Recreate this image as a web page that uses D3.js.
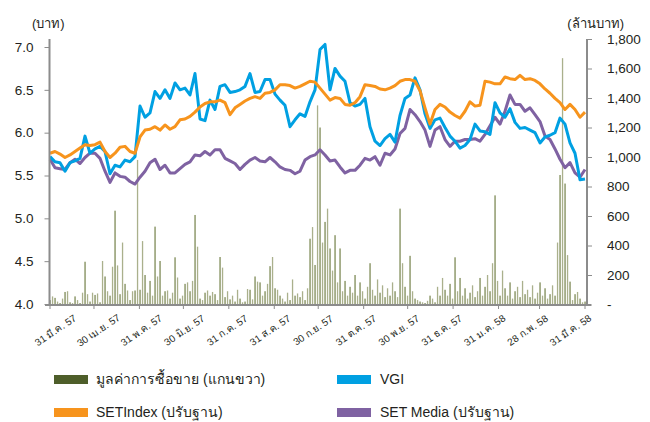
<!DOCTYPE html>
<html>
<head>
<meta charset="utf-8">
<style>
  body { margin: 0; background: white; }
  text { font-family: "Liberation Sans", Arial, "Noto Sans", sans-serif; fill: #231f20; }
  .axis path, .axis line { stroke: #8c8c8c; }
</style>
</head>
<body>
<div id="chart"></div>
<script src="https://d3js.org/d3.v7.min.js"></script>
<script>
var width = 650, height = 422;

// month-end ticks (Thai Buddhist calendar labels)
var tickDates = ["2014-03-31","2014-04-30","2014-05-31","2014-06-30","2014-07-31","2014-08-31",
  "2014-09-30","2014-10-31","2014-11-30","2014-12-31","2015-01-31","2015-02-28","2015-03-31"];
var tickLabels = ["31 มี.ค. 57","30 เม.ย. 57","31 พ.ค. 57","30 มิ.ย. 57","31 ก.ค. 57","31 ส.ค. 57",
  "30 ก.ย. 57","31 ต.ค. 57","30 พ.ย. 57","31 ธ.ค. 57","31 ม.ค. 58","28 ก.พ. 58","31 มี.ค. 58"];

var leftTicks = [4.0, 4.5, 5.0, 5.5, 6.0, 6.5, 7.0];
var rightTicks = [0, 200, 400, 600, 800, 1000, 1200, 1400, 1600, 1800];

// price series (baht), sampled evenly over the period
var vgi = [5.72,5.66,5.65,5.55,5.65,5.67,5.70,5.96,5.76,5.81,5.84,5.78,5.52,5.62,5.60,5.68,5.66,5.72,
  6.31,6.18,6.23,6.48,6.40,6.50,6.40,6.58,6.50,6.52,6.44,6.69,6.16,6.14,6.38,6.27,6.54,6.56,6.47,6.48,
  6.50,6.54,6.69,6.47,6.48,6.62,6.62,6.45,6.38,6.32,6.07,6.15,6.22,6.19,6.36,6.50,6.97,7.03,6.50,6.75,
  6.66,6.60,6.35,6.31,6.33,6.40,6.07,5.90,5.85,5.93,5.98,5.89,6.20,6.40,6.44,6.64,6.50,6.22,6.05,6.15,
  6.17,6.06,5.96,5.90,5.82,5.85,5.92,6.10,6.02,6.01,5.98,6.35,6.23,6.18,6.28,6.12,6.05,6.06,6.03,6.00,
  5.88,5.95,5.97,6.00,6.17,6.10,5.88,5.76,5.45,5.46];
var setIndex = [5.76,5.78,5.75,5.71,5.74,5.78,5.82,5.86,5.85,5.86,5.89,5.78,5.71,5.76,5.83,5.84,5.78,5.76,
  5.95,6.03,6.04,6.07,6.03,6.09,6.04,6.07,6.15,6.16,6.19,6.24,6.30,6.34,6.36,6.36,6.38,6.35,6.21,6.29,
  6.33,6.37,6.40,6.42,6.40,6.46,6.47,6.50,6.56,6.56,6.55,6.52,6.54,6.57,6.60,6.59,6.52,6.45,6.38,6.41,
  6.40,6.33,6.32,6.35,6.42,6.56,6.55,6.54,6.51,6.50,6.52,6.55,6.60,6.62,6.62,6.60,6.49,6.29,6.10,6.27,
  6.33,6.30,6.24,6.20,6.17,6.25,6.36,6.31,6.32,6.60,6.59,6.57,6.57,6.65,6.63,6.62,6.67,6.62,6.63,6.61,
  6.57,6.51,6.46,6.40,6.35,6.27,6.33,6.27,6.18,6.24];
var setMedia = [5.69,5.59,5.58,5.57,5.65,5.69,5.64,5.71,5.76,5.76,5.70,5.55,5.42,5.53,5.49,5.48,5.43,5.40,
  5.48,5.55,5.65,5.69,5.57,5.62,5.53,5.53,5.58,5.63,5.66,5.74,5.73,5.78,5.74,5.80,5.80,5.70,5.67,5.64,
  5.57,5.63,5.68,5.71,5.67,5.66,5.71,5.66,5.60,5.57,5.56,5.52,5.55,5.68,5.72,5.74,5.80,5.74,5.67,5.68,
  5.60,5.53,5.56,5.56,5.62,5.70,5.68,5.72,5.62,5.76,5.74,5.81,5.99,6.05,6.27,6.21,6.13,6.03,5.84,6.03,
  6.07,5.92,5.84,5.90,5.90,5.92,5.92,5.93,5.90,5.98,6.08,6.18,6.10,6.25,6.44,6.33,6.33,6.25,6.29,6.21,
  6.13,5.96,5.92,5.81,5.69,5.59,5.65,5.53,5.48,5.57];

// trading value (million baht, right axis)
var tradeValue = [30,55,45,20,10,40,85,90,15,10,55,30,10,80,290,70,20,80,65,75,15,295,190,90,60,256,636,265,70,420,
  140,95,30,90,95,980,100,430,200,80,160,60,528,190,295,60,90,95,40,80,320,183,40,60,140,150,90,160,607,392,
  40,30,80,95,60,85,70,30,322,250,50,90,35,60,20,100,40,15,20,105,100,35,190,155,150,60,90,140,260,322,
  110,100,60,40,20,80,30,170,60,75,50,90,30,110,446,525,268,1350,1200,420,560,650,380,230,470,150,380,90,160,60,
  120,80,200,60,150,90,40,120,280,100,60,170,80,130,50,110,60,150,90,50,650,280,120,60,330,90,40,30,20,15,
  10,25,60,40,15,120,60,180,100,60,140,40,320,90,180,60,110,40,80,130,50,90,180,60,120,200,90,280,740,160,
  60,230,110,60,150,40,90,120,50,160,70,100,50,130,40,80,150,60,110,40,70,130,60,420,878,1670,820,335,155,30,
  70,85,40,15,20];

var legendItems = [
  {label: "มูลค่าการซื้อขาย (แกนขวา)", color: "#4e5e2a", col: 0, row: 0},
  {label: "VGI", color: "#00a0e2", col: 1, row: 0},
  {label: "SETIndex (ปรับฐาน)", color: "#f7941d", col: 0, row: 1},
  {label: "SET Media (ปรับฐาน)", color: "#7f62a2", col: 1, row: 1}
];

var x0 = 50, x1 = 585;
var svg = d3.select("#chart").append("svg").attr("width", width).attr("height", height);

var yL = d3.scaleLinear().domain([4, 7]).range([304, 47]);
var yR = d3.scaleLinear().domain([0, 1800]).range([304.5, 39]);
var xLine = d3.scaleLinear().domain([0, vgi.length - 1]).range([x0, x1]);
var xBar = d3.scaleLinear().domain([0, tradeValue.length - 1]).range([x0, x1]);
var xTime = d3.scaleTime().domain([new Date(2014, 2, 31), new Date(2015, 2, 31)]).range([x0, x1]);
var xLabel = d3.scalePoint().domain(tickLabels).range([56, 571]);

// bars
svg.append("g").selectAll("rect")
    .data(tradeValue)
  .enter().append("rect")
    .attr("x", (d, i) => xBar(i) - 0.6)
    .attr("width", 1.3)
    .attr("y", d => yR(d))
    .attr("height", d => yR(0) - yR(d))
    .attr("fill", (d, i) => i % 2 == 0 ? "#7f8b57" : "#aab08c");

// lines
var series = [
  {values: setMedia, color: "#7f62a2"},
  {values: vgi, color: "#00a0e2"},
  {values: setIndex, color: "#f7941d"}
];
var line = d3.line().x((d, i) => xLine(i)).y(d => yL(d));
svg.append("g").selectAll("path")
    .data(series)
  .enter().append("path")
    .attr("d", d => line(d.values))
    .attr("fill", "none")
    .attr("stroke", d => d.color)
    .attr("stroke-width", 3)
    .attr("stroke-linejoin", "round");

// axes lines
svg.append("line").attr("x1", 49.5).attr("x2", 49.5).attr("y1", 39).attr("y2", 305)
  .attr("stroke", "#8c8c8c").attr("stroke-width", 2);
svg.append("line").attr("x1", 587).attr("x2", 587).attr("y1", 39).attr("y2", 305)
  .attr("stroke", "#8c8c8c").attr("stroke-width", 2);
svg.append("line").attr("x1", 45).attr("x2", 591).attr("y1", 305).attr("y2", 305)
  .attr("stroke", "#8c8c8c").attr("stroke-width", 2);

var axL = svg.append("g").attr("class", "axis").attr("transform", "translate(49.5,0)")
  .call(d3.axisLeft(yL).tickValues(leftTicks).tickFormat(d3.format(".1f")).tickSize(5).tickSizeOuter(0).tickPadding(11));
axL.select(".domain").remove();
axL.selectAll("text").style("font-size", "13.5px").attr("font-family", null);

var axR = svg.append("g").attr("class", "axis").attr("transform", "translate(587,0)")
  .call(d3.axisRight(yR).tickValues(rightTicks).tickFormat(d => d == 0 ? "-" : d3.format(",")(d)).tickSize(5).tickSizeOuter(0).tickPadding(15));
axR.select(".domain").remove();
axR.selectAll("text").style("font-size", "13.5px").attr("font-family", null);

// x ticks
svg.append("g").selectAll("line")
    .data(tickDates)
  .enter().append("line")
    .attr("x1", d => xTime(new Date(d))).attr("x2", d => xTime(new Date(d)))
    .attr("y1", 305).attr("y2", 309)
    .attr("stroke", "#8c8c8c");

svg.append("g").selectAll("text")
    .data(tickLabels)
  .enter().append("text")
    .attr("transform", d => "translate(" + xLabel(d) + ",331) rotate(-34)")
    .attr("text-anchor", "middle")
    .attr("dominant-baseline", "middle")
    .style("font-size", "10px")
    .text(d => d);

// unit titles
svg.append("text").attr("x", 32).attr("y", 28).style("font-size", "13px").text("(บาท)");
svg.append("text").attr("x", 624).attr("y", 28).attr("text-anchor", "end").style("font-size", "13px").text("(ล้านบาท)");

// legend
var lg = svg.append("g").selectAll("g")
    .data(legendItems)
  .enter().append("g")
    .attr("transform", d => "translate(" + (d.col == 0 ? 54 : 337) + "," + (d.row == 0 ? 375 : 408) + ")");
lg.append("rect").attr("width", 34).attr("height", 9).attr("fill", d => d.color);
lg.append("text").attr("x", d => d.col == 0 ? 42 : 43).attr("y", 5).attr("dominant-baseline", "middle")
  .style("font-size", "14px").text(d => d.label);
</script>
</body>
</html>
